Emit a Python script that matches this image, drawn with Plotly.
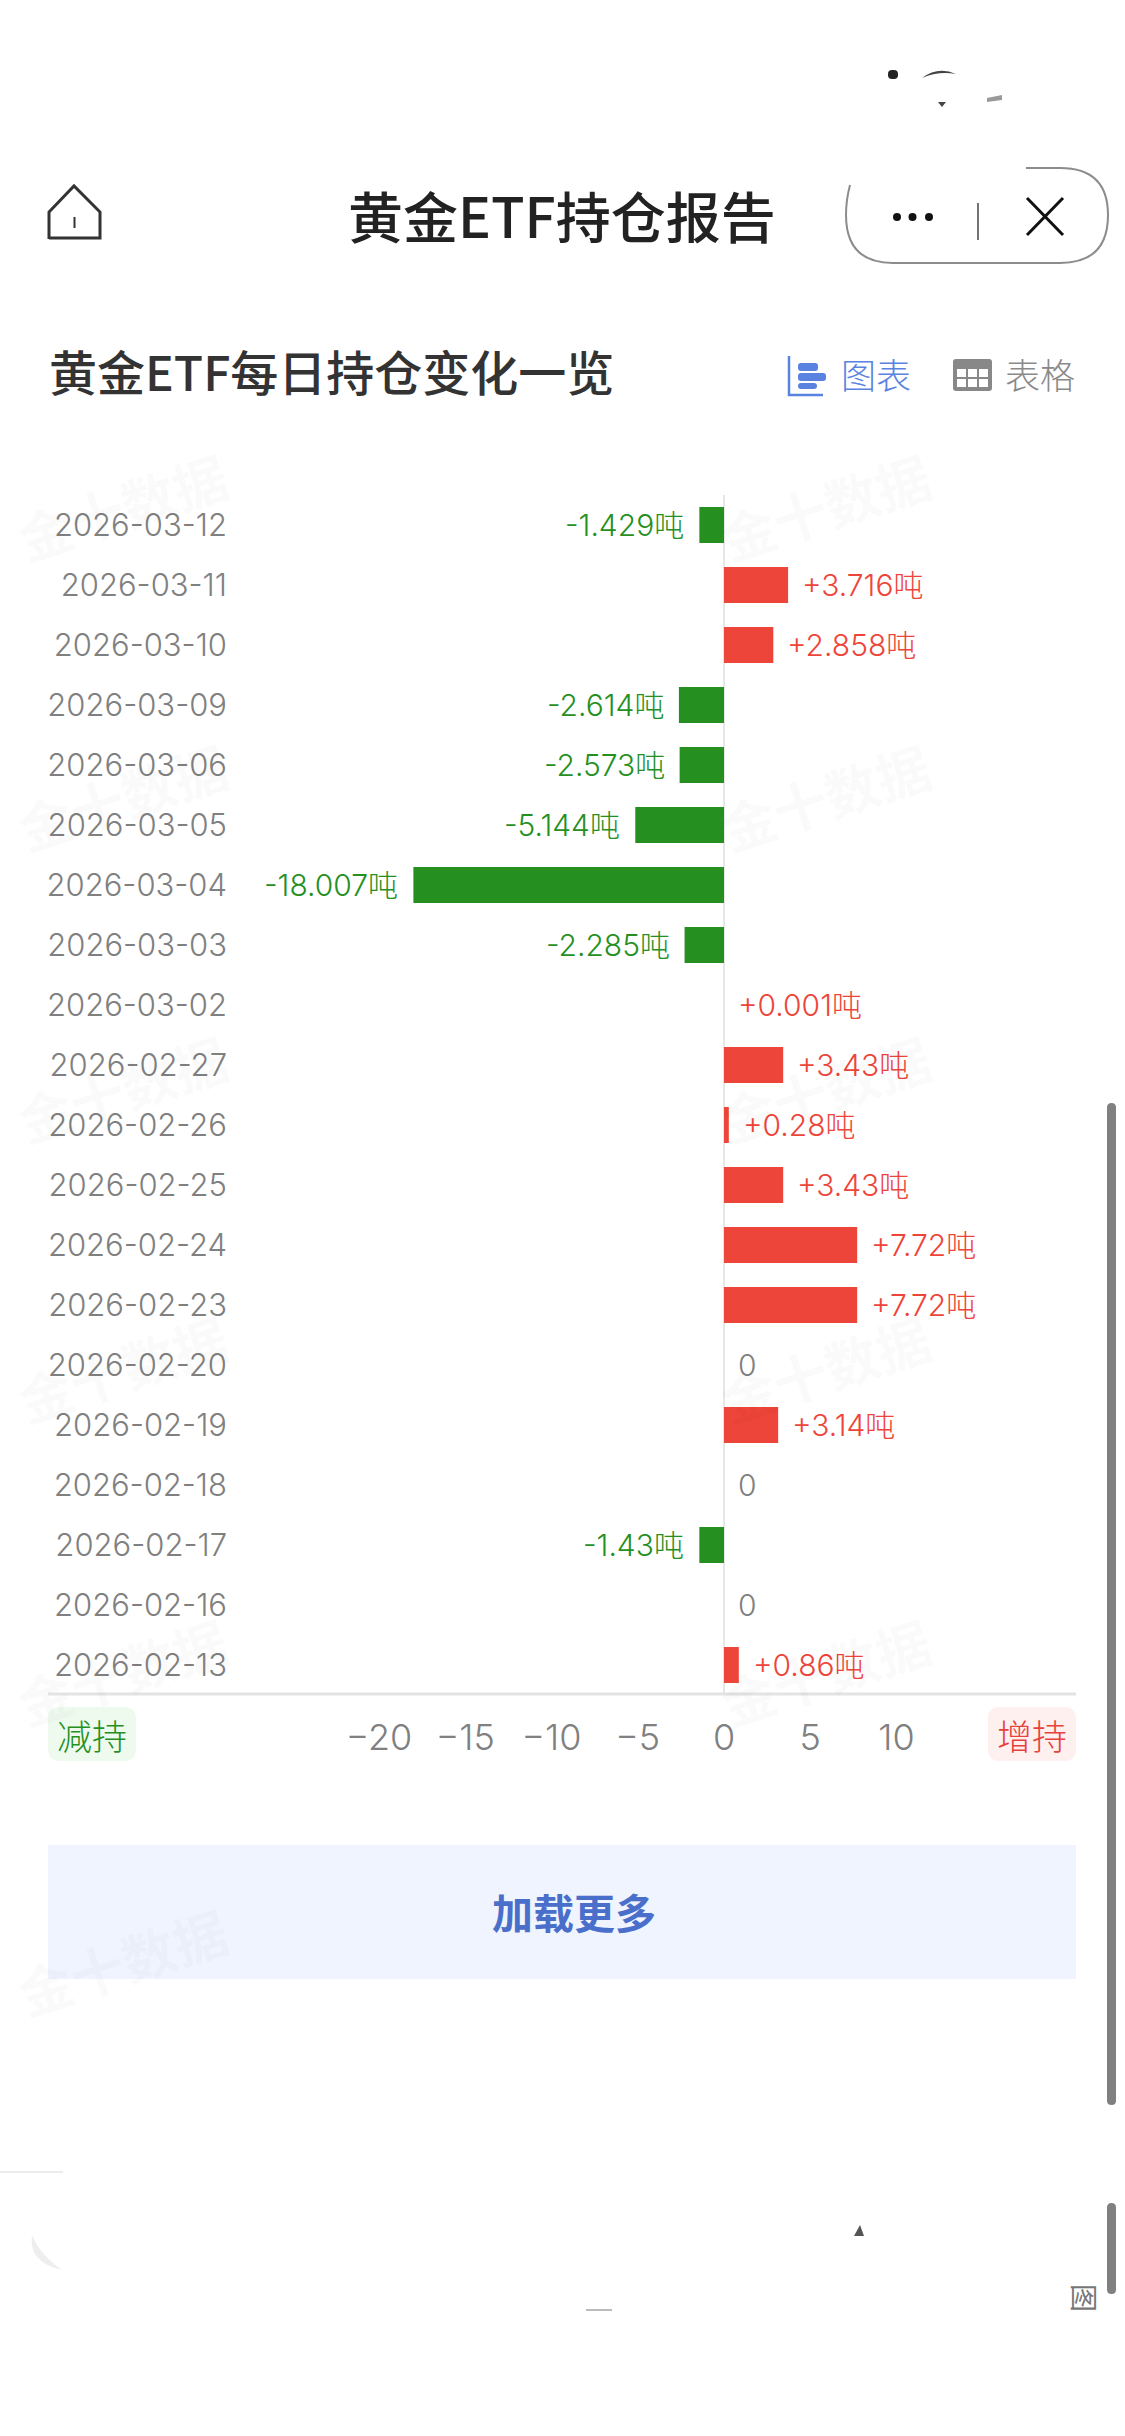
import plotly.graph_objects as go

W, H = 1125, 2436

# ── Dados ─────────────────────────────────────────────────────────────────────
dates = [
    "2026-03-12", "2026-03-11", "2026-03-10", "2026-03-09", "2026-03-06",
    "2026-03-05", "2026-03-04", "2026-03-03", "2026-03-02", "2026-02-27",
    "2026-02-26", "2026-02-25", "2026-02-24", "2026-02-23", "2026-02-20",
    "2026-02-19", "2026-02-18", "2026-02-17", "2026-02-16", "2026-02-13",
]
changes = [
    -1.429, 3.716, 2.858, -2.614, -2.573,
    -5.144, -18.007, -2.285, 0.001, 3.43,
    0.28, 3.43, 7.72, 7.72, 0,
    3.14, 0, -1.43, 0, 0.86,
]
bar_labels = [
    "-1.429吨", "+3.716吨", "+2.858吨", "-2.614吨", "-2.573吨",
    "-5.144吨", "-18.007吨", "-2.285吨", "+0.001吨", "+3.43吨",
    "+0.28吨", "+3.43吨", "+7.72吨", "+7.72吨", "0",
    "+3.14吨", "0", "-1.43吨", "0", "+0.86吨",
]
x_ticks = [-20, -15, -10, -5, 0, 5, 10]

RED = "#ee453a"
GREEN = "#25901f"
GREY = "#808080"
BLUE = "#5a82e0"
FONT = "Inter, 'Noto Sans CJK SC', sans-serif"
CJK = "'Noto Sans CJK SC', sans-serif"

# escala: zero em 724 px, 17.25 px por tonelada, área de 240 a 1076 px
ZERO_PX, PX_PER_T = 724, 17.25
PLOT_L, PLOT_R, PLOT_T, PLOT_B = 240, 1076, 495, 1695


def fx(px):
    return px / W


def fy(px):
    return 1 - px / H


def line(x0, y0, x1, y1, color, width=3):
    return dict(type="line", xref="paper", yref="paper", x0=fx(x0), y0=fy(y0), x1=fx(x1), y1=fy(y1),
                line=dict(color=color, width=width))


def rect(x0, y0, x1, y1, fill):
    return dict(type="rect", xref="paper", yref="paper", x0=fx(x0), y0=fy(y0), x1=fx(x1), y1=fy(y1),
                fillcolor=fill, line=dict(width=0), layer="below")


def path(points, color=None, fill=None, width=3):
    # caminho em pixels da tela, convertido para coordenadas do paper
    out = []
    for item in points:
        if isinstance(item, str):
            out.append(item)
        else:
            out.append(f"{fx(item[0]):.5f},{fy(item[1]):.5f}")
    return dict(type="path", xref="paper", yref="paper", path=" ".join(out),
                fillcolor=fill or "rgba(0,0,0,0)",
                line=dict(color=color or "rgba(0,0,0,0)", width=width if color else 0))


def rounded(x0, y0, x1, y1, r, fill):
    return path(["M", (x0 + r, y0), "L", (x1 - r, y0), "Q", (x1, y0), (x1, y0 + r),
                 "L", (x1, y1 - r), "Q", (x1, y1), (x1 - r, y1),
                 "L", (x0 + r, y1), "Q", (x0, y1), (x0, y1 - r),
                 "L", (x0, y0 + r), "Q", (x0, y0), (x0 + r, y0), "Z"], fill=fill)


def label(x, y, text, size, color, family=CJK, weight=400, anchor="center", angle=0):
    return dict(xref="paper", yref="paper", x=fx(x), y=fy(y), text=text, showarrow=False,
                xanchor=anchor, yanchor="middle", textangle=angle,
                font=dict(family=family, size=size, color=color, weight=weight))


# ── Gráfico ───────────────────────────────────────────────────────────────────
# +0.001 não aparece na foto: abaixo de um pixel a barra fica transparente
bar_colors = []
for v in changes:
    if abs(v) < 0.01:
        bar_colors.append("rgba(0,0,0,0)")
    else:
        bar_colors.append(RED if v > 0 else GREEN)

fig = go.Figure(go.Bar(
    x=changes,
    y=dates,
    orientation="h",
    marker=dict(color=bar_colors, line=dict(width=0)),
    hoverinfo="skip",
))

# rótulos das barras ficam afastados da ponta
annotations = []
for d, v, t in zip(dates, changes, bar_labels):
    color = GREY if v == 0 else (RED if v > 0 else GREEN)
    annotations.append(dict(
        x=v, y=d, xref="x", yref="y", text=t, showarrow=False,
        xanchor="right" if v < 0 else "left", yanchor="middle",
        xshift=-13 if v < 0 else 12,
        font=dict(family=FONT, size=30, color=color, weight=300),
    ))

# ── Moldura da tela ───────────────────────────────────────────────────────────
annotations += [
    label(562, 214, "黄金ETF持仓报告", 55, "#222222", weight=500),
    label(47, 370, "黄金ETF每日持仓变化一览", 48, "#333333", weight=500, anchor="left"),
    label(876, 374, "图表", 35, BLUE, weight=300),
    label(1040, 374, "表格", 35, "#8a8a8a", weight=300),
    label(92, 1734, "减持", 35, GREEN, weight=300),
    label(1032, 1734, "增持", 35, "#e8403a", weight=300),
    label(574, 1911, "加载更多", 41, "#4a6fcb", weight=700),
    label(1085, 2298, "图", 28, "#777777", angle=90),
]

# marcas-d'água: a coluna da direita sai da tela na foto, só "JIN1" aparece
for y in [373, 660, 950, 1250, 1540, 1825, 2115]:
    annotations.append(label(416, y, "JIN10.COM", 40, "rgba(0,0,0,0.022)",
                             family="'DejaVu Sans Mono', monospace", weight=700, angle=-18))
for y in [373, 660, 950, 1250, 1540]:
    annotations.append(label(1060, y, "JIN1", 40, "rgba(0,0,0,0.022)",
                             family="'DejaVu Sans Mono', monospace", weight=700, angle=-18))
for y in [505, 795, 1087, 1367, 1670, 1960]:
    annotations.append(label(122, y, "金十数据", 54, "rgba(0,0,0,0.018)", weight=700, angle=-18))
for y in [505, 795, 1087, 1367, 1670]:
    annotations.append(label(825, y, "金十数据", 54, "rgba(0,0,0,0.018)", weight=700, angle=-18))

shapes = [
    # eixo inferior
    line(48, 1694, 1076, 1694, "#e3e3e3", 3),
    # casinha
    path(["M", (49, 239), "L", (49, 212), "L", (74, 186), "L", (100, 212), "L", (100, 238), "L", (49, 238), "Z"],
         color="#333333", width=3),
    line(74.5, 217, 74.5, 228, "#333333", 2),
    # cápsula (parte de cima some na foto)
    path(["M", (1026, 168), "L", (1060, 168), "Q", (1108, 168), (1108, 215),
          "Q", (1108, 263), (1060, 263), "L", (893, 263), "Q", (846, 263), (846, 215), "Q", (846, 200), (850, 185)],
         color="#8c8c8c", width=2),
    dict(type="circle", xref="paper", yref="paper", x0=fx(893), x1=fx(901), y0=fy(213), y1=fy(221),
         fillcolor="#111111", line=dict(width=0)),
    dict(type="circle", xref="paper", yref="paper", x0=fx(908.5), x1=fx(916.5), y0=fy(213), y1=fy(221),
         fillcolor="#111111", line=dict(width=0)),
    dict(type="circle", xref="paper", yref="paper", x0=fx(925), x1=fx(933), y0=fy(213), y1=fy(221),
         fillcolor="#111111", line=dict(width=0)),
    line(978, 203, 978, 240, "#444444", 1.5),
    line(1027, 198, 1063, 235, "#111111", 3),
    line(1063, 198, 1027, 235, "#111111", 3),
    # ícone de gráfico
    path(["M", (789, 356), "L", (789, 395), "L", (823, 395)], color=BLUE, width=2.5),
    rounded(798, 363, 818, 371, 3, BLUE),
    rounded(798, 373, 826, 381, 3, BLUE),
    rounded(798, 383, 817, 389, 3, BLUE),
    # ícone de tabela
    rounded(953, 359, 992, 391, 3, "#888888"),
    rect(957, 369, 988, 387, "#ffffff") | dict(layer="above"),
    line(967, 369, 967, 387, "#888888", 2),
    line(978, 369, 978, 387, "#888888", 2),
    line(957, 378, 988, 378, "#888888", 2),
    # botão e selos
    rect(48, 1845, 1076, 1979, "#eff4fe"),
    rounded(48, 1707, 136, 1761, 12, "#eefaee") | dict(layer="below"),
    rounded(988, 1707, 1076, 1761, 12, "#fdf0ef") | dict(layer="below"),
    # barra de rolagem
    rounded(1107, 1103, 1116, 2105, 4.5, "#808080"),
    rounded(1107, 2203, 1116, 2294, 4.5, "#808080"),
    # restos da barra de status e da barra inferior
    rounded(888, 70, 898, 79, 4, "#222222"),
    path(["M", (922, 78), "Q", (938, 66), (956, 74), "Q", (938, 71), (922, 78), "Z"], fill="#444444"),
    path(["M", (938, 102), "L", (946, 102), "L", (942, 107), "Z"], fill="#444444"),
    path(["M", (987, 98), "L", (1002, 95), "L", (1002, 100), "L", (987, 102), "Z"], fill="#999999"),
    line(0, 2172, 63, 2172, "#e6e6e6", 1.5),
    path(["M", (32, 2235), "Q", (28, 2262), (62, 2270), "Q", (40, 2255), (32, 2235), "Z"], fill="#eeeeee"),
    path(["M", (854, 2236), "L", (860, 2225), "L", (864, 2236), "Z"], fill="#555555"),
    line(586, 2310, 612, 2310, "#bbbbbb", 2),
]

fig.update_layout(
    width=W,
    height=H,
    autosize=False,
    showlegend=False,
    paper_bgcolor="#ffffff",
    plot_bgcolor="rgba(0,0,0,0)",
    margin=dict(l=0, r=0, t=0, b=0, pad=0),
    bargap=0.4,
    font=dict(family=FONT),
    xaxis=dict(
        domain=[PLOT_L / W, PLOT_R / W],
        range=[(PLOT_L - ZERO_PX) / PX_PER_T, (PLOT_R - ZERO_PX) / PX_PER_T],
        tickmode="array",
        tickvals=x_ticks,
        ticks="",
        ticklabelstandoff=18,
        tickfont=dict(family=FONT, size=36, color=GREY, weight=300),
        showgrid=False,
        showline=False,
        zeroline=True,
        zerolinecolor="#e6e6e6",
        zerolinewidth=1.5,
        fixedrange=True,
    ),
    yaxis=dict(
        domain=[1 - PLOT_B / H, 1 - PLOT_T / H],
        type="category",
        categoryorder="array",
        categoryarray=dates,
        range=[19.5, -0.5],
        ticks="",
        ticklabelstandoff=12,
        tickfont=dict(family=FONT, size=31, color=GREY, weight=300),
        showgrid=False,
        showline=False,
        zeroline=False,
        fixedrange=True,
    ),
    shapes=shapes,
    annotations=annotations,
)

# tira a margem padrão do body para a página ocupar a janela inteira
fig.write_html("out.html", config=dict(displayModeBar=False),
               post_script="document.body.style.margin='0';")
